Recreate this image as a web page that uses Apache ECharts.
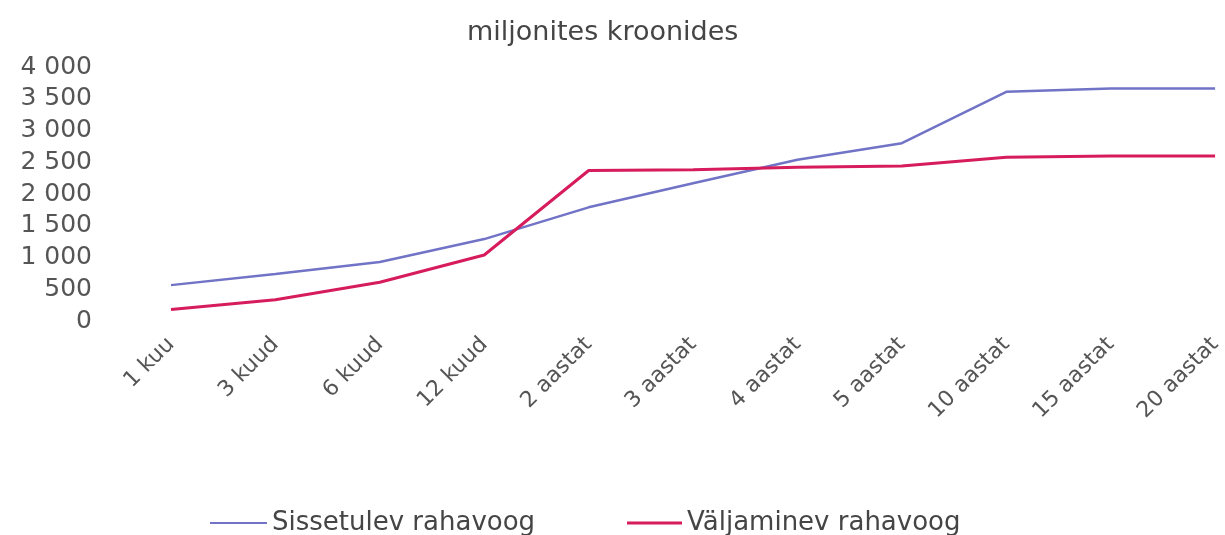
<!DOCTYPE html>
<html>
<head>
<meta charset="utf-8">
<script src="https://cdn.jsdelivr.net/npm/echarts@6/dist/echarts.min.js"></script>
<style>html,body{margin:0;padding:0;background:#fff}#c{width:1225px;height:535px}</style>
</head>
<body>
<div id="c"></div>
<script>
const titleText = 'miljonites kroonides';
const categories = ['1 kuu','3 kuud','6 kuud','12 kuud','2 aastat','3 aastat','4 aastat','5 aastat','10 aastat','15 aastat','20 aastat'];
const seriesNames = ['Sissetulev rahavoog','Väljaminev rahavoog'];
const inflow = [565, 740, 930, 1290, 1790, 2170, 2540, 2800, 3610, 3660, 3660];
const outflow = [180, 335, 610, 1040, 2370, 2380, 2420, 2440, 2580, 2600, 2600];
const yTicks = {min: 0, max: 4000, interval: 500};

const blue = '#7173c6';
const red = '#d61c5c';
const fmt = v => { const s = String(v); return s.length > 3 ? s.slice(0, s.length-3) + ' ' + s.slice(-3) : s; };

const chart = echarts.init(document.getElementById('c'));
chart.setOption({
  backgroundColor: '#fff',
  animation: false,
  title: {text: titleText, left: 462, top: 14,
    textStyle: {fontFamily: 'DejaVu Sans', fontSize: 27, fontWeight: 'normal', color: '#454545'}},
  grid: {left: 171, right: 3, top: 67, bottom: 214, containLabel: false},
  legend: [
    {data: [seriesNames[0]], left: 205, top: 505, icon: 'rect', itemWidth: 57, itemHeight: 2, itemGap: 5,
     textStyle: {fontFamily: 'DejaVu Sans', fontSize: 26, color: '#454545'}},
    {data: [seriesNames[1]], left: 622, top: 505, icon: 'rect', itemWidth: 55, itemHeight: 3, itemGap: 5,
     textStyle: {fontFamily: 'DejaVu Sans', fontSize: 26, color: '#454545'}}
  ],
  xAxis: {type: 'category', data: categories, boundaryGap: false,
    axisLine: {show: false}, axisTick: {show: false},
    axisLabel: {rotate: 45, margin: 20, interval: 0, fontFamily: 'DejaVu Sans', fontSize: 22, color: '#555555'}},
  yAxis: {type: 'value', min: yTicks.min, max: yTicks.max, interval: yTicks.interval,
    axisLine: {show: false}, axisTick: {show: false}, splitLine: {show: false},
    axisLabel: {margin: 79, formatter: fmt, fontFamily: 'DejaVu Sans', fontSize: 25, color: '#555555'}},
  series: [
    {name: seriesNames[0], type: 'line', data: inflow, symbol: 'none', color: blue,
     lineStyle: {width: 2.5, color: blue}, itemStyle: {color: blue}},
    {name: seriesNames[1], type: 'line', data: outflow, symbol: 'none', color: red,
     lineStyle: {width: 3, color: red}, itemStyle: {color: red}}
  ]
});
</script>
</body>
</html>
